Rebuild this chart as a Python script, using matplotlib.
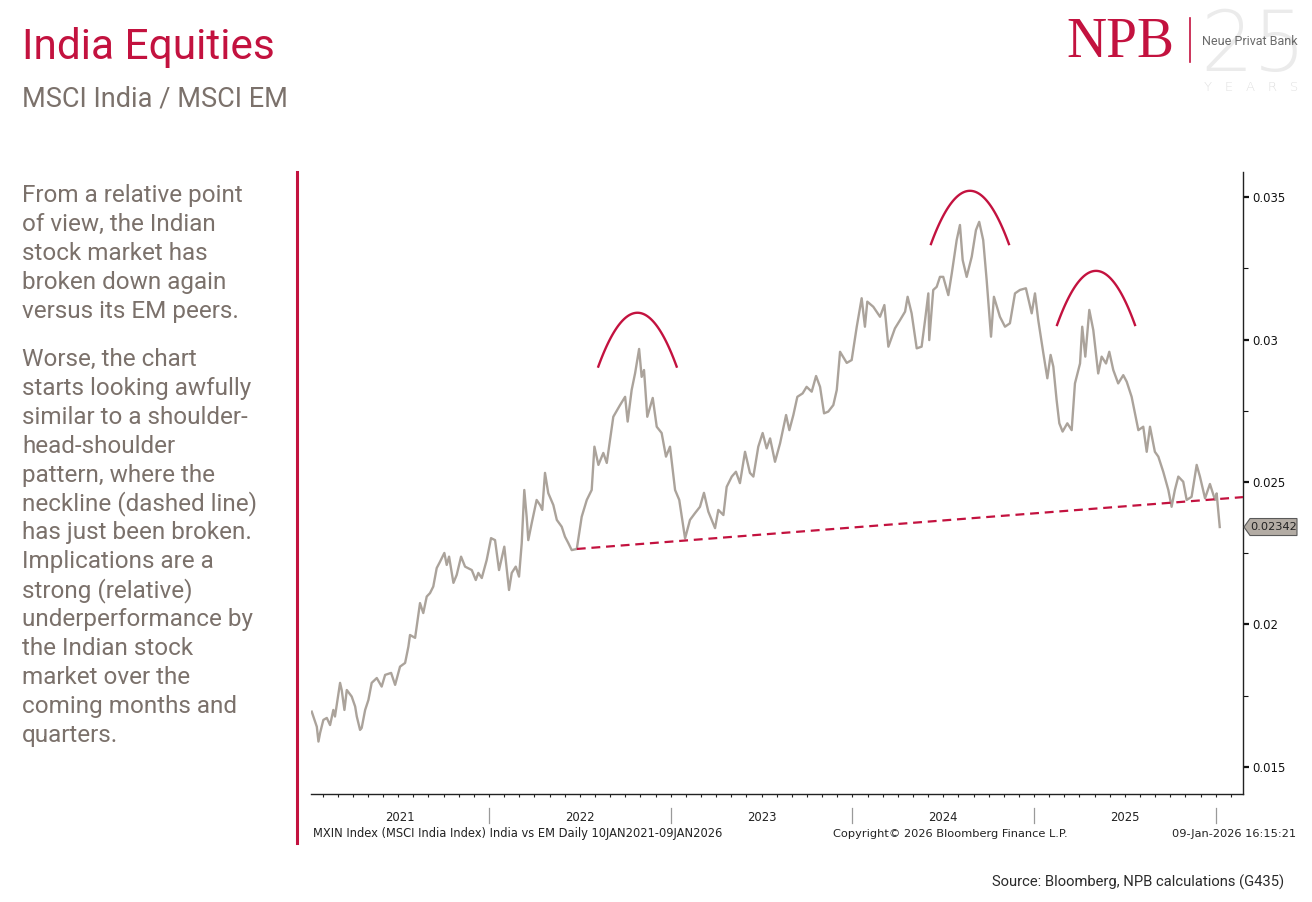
import matplotlib
matplotlib.use('Agg')
import matplotlib.pyplot as plt
import numpy as np
from matplotlib import font_manager
from matplotlib.lines import Line2D
from matplotlib.patches import Polygon
import matplotlib.transforms as mtrans

# ---------------- data ----------------
years = [2021.024, 2021.052, 2021.061, 2021.070, 2021.088, 2021.107, 2021.125, 2021.143, 2021.152, 2021.180,
         2021.189, 2021.204, 2021.217, 2021.244, 2021.263, 2021.272, 2021.290, 2021.299, 2021.318, 2021.336,
         2021.354, 2021.382, 2021.409, 2021.428, 2021.461, 2021.483, 2021.510, 2021.538, 2021.556, 2021.565,
         2021.593, 2021.620, 2021.638, 2021.657, 2021.675, 2021.693, 2021.712, 2021.730, 2021.754, 2021.767,
         2021.780, 2021.804, 2021.822, 2021.846, 2021.868, 2021.905, 2021.927, 2021.941, 2021.960, 2021.987,
         2022.011, 2022.033, 2022.055, 2022.084, 2022.110, 2022.125, 2022.147, 2022.165, 2022.180, 2022.194,
         2022.207, 2022.216, 2022.235, 2022.262, 2022.281, 2022.293, 2022.308, 2022.326, 2022.354, 2022.373,
         2022.400, 2022.418, 2022.436, 2022.455, 2022.483, 2022.510, 2022.538, 2022.565, 2022.580, 2022.602,
         2022.629, 2022.648, 2022.666, 2022.684, 2022.721, 2022.749, 2022.763, 2022.785, 2022.804, 2022.826,
         2022.840, 2022.853, 2022.871, 2022.901, 2022.923, 2022.950, 2022.974, 2022.996, 2023.024, 2023.047,
         2023.061, 2023.079, 2023.106, 2023.134, 2023.161, 2023.183, 2023.207, 2023.244, 2023.262, 2023.290,
         2023.308, 2023.336, 2023.359, 2023.381, 2023.409, 2023.436, 2023.455, 2023.482, 2023.506, 2023.528,
         2023.547, 2023.574, 2023.602, 2023.635, 2023.653, 2023.675, 2023.697, 2023.726, 2023.748, 2023.776,
         2023.800, 2023.822, 2023.844, 2023.867, 2023.895, 2023.914, 2023.932, 2023.969, 2023.996, 2024.024,
         2024.051, 2024.069, 2024.082, 2024.115, 2024.152, 2024.176, 2024.198, 2024.234, 2024.262, 2024.290,
         2024.304, 2024.326, 2024.354, 2024.381, 2024.400, 2024.418, 2024.423, 2024.445, 2024.464, 2024.482,
         2024.500, 2024.528, 2024.547, 2024.574, 2024.592, 2024.607, 2024.629, 2024.657, 2024.680, 2024.698,
         2024.720, 2024.739, 2024.763, 2024.779, 2024.812, 2024.840, 2024.867, 2024.895, 2024.922, 2024.955,
         2024.987, 2025.005, 2025.023, 2025.051, 2025.073, 2025.091, 2025.106, 2025.124, 2025.139, 2025.157,
         2025.183, 2025.207, 2025.225, 2025.253, 2025.265, 2025.282, 2025.304, 2025.326, 2025.353, 2025.372,
         2025.396, 2025.414, 2025.436, 2025.463, 2025.491, 2025.510, 2025.537, 2025.574, 2025.601, 2025.620,
         2025.638, 2025.665, 2025.684, 2025.711, 2025.739, 2025.757, 2025.775, 2025.794, 2025.821, 2025.840,
         2025.867, 2025.895, 2025.913, 2025.941, 2025.968, 2025.996, 2026.005, 2026.022]
ratio = [0.01694, 0.01641, 0.01589, 0.01619, 0.01665, 0.01672, 0.01647, 0.01700, 0.01677, 0.01795,
         0.01770, 0.01700, 0.01770, 0.01747, 0.01712, 0.01677, 0.01630, 0.01637, 0.01700, 0.01735,
         0.01795, 0.01812, 0.01782, 0.01823, 0.01830, 0.01788, 0.01852, 0.01865, 0.01922, 0.01963,
         0.01953, 0.02075, 0.02040, 0.02098, 0.02110, 0.02133, 0.02198, 0.02220, 0.02251, 0.02209,
         0.02238, 0.02146, 0.02174, 0.02238, 0.02203, 0.02191, 0.02156, 0.02181, 0.02163, 0.02226,
         0.02303, 0.02296, 0.02191, 0.02273, 0.02121, 0.02181, 0.02203, 0.02168, 0.02286, 0.02472,
         0.02378, 0.02296, 0.02356, 0.02437, 0.02419, 0.02402, 0.02532, 0.02461, 0.02419, 0.02367,
         0.02343, 0.02308, 0.02286, 0.02261, 0.02265, 0.02378, 0.02437, 0.02472, 0.02624, 0.02560,
         0.02602, 0.02567, 0.02647, 0.02729, 0.02770, 0.02799, 0.02712, 0.02823, 0.02882, 0.02967,
         0.02869, 0.02893, 0.02729, 0.02795, 0.02694, 0.02672, 0.02589, 0.02624, 0.02472, 0.02437,
         0.02378, 0.02302, 0.02367, 0.02391, 0.02413, 0.02462, 0.02396, 0.02338, 0.02402, 0.02384,
         0.02483, 0.02519, 0.02536, 0.02496, 0.02606, 0.02532, 0.02519, 0.02624, 0.02672, 0.02618,
         0.02653, 0.02571, 0.02636, 0.02735, 0.02682, 0.02735, 0.02799, 0.02811, 0.02834, 0.02817,
         0.02872, 0.02834, 0.02741, 0.02747, 0.02770, 0.02823, 0.02957, 0.02918, 0.02928, 0.03045,
         0.03145, 0.03045, 0.03133, 0.03115, 0.03080, 0.03121, 0.02975, 0.03039, 0.03068, 0.03098,
         0.03150, 0.03092, 0.02969, 0.02975, 0.03068, 0.03162, 0.02998, 0.03174, 0.03185, 0.03220,
         0.03220, 0.03156, 0.03232, 0.03349, 0.03402, 0.03279, 0.03220, 0.03291, 0.03384, 0.03413,
         0.03349, 0.03209, 0.03010, 0.03150, 0.03080, 0.03045, 0.03057, 0.03162, 0.03174, 0.03180,
         0.03092, 0.03162, 0.03068, 0.02952, 0.02864, 0.02946, 0.02905, 0.02788, 0.02706, 0.02677,
         0.02706, 0.02682, 0.02846, 0.02916, 0.03045, 0.02940, 0.03104, 0.03033, 0.02881, 0.02940,
         0.02916, 0.02957, 0.02893, 0.02846, 0.02875, 0.02852, 0.02799, 0.02682, 0.02694, 0.02606,
         0.02694, 0.02606, 0.02589, 0.02536, 0.02472, 0.02413, 0.02472, 0.02519, 0.02501, 0.02437,
         0.02448, 0.02560, 0.02519, 0.02443, 0.02493, 0.02437, 0.02460, 0.02342]
last_value = 0.02342

# neckline (dashed) endpoints: year, value
neck_years = [2022.483, 2026.150]
neck_values = [0.02265, 0.02447]

# shoulder / head arcs: centre year, half width (years), top value, end value
arc_centres = [2022.817, 2024.647, 2025.341]
arc_halfwidths = [0.2157, 0.2146, 0.2146]
arc_tops = [0.03094, 0.03522, 0.03241]
arc_ends = [0.02905, 0.03335, 0.03051]

year_labels = [2021, 2022, 2023, 2024, 2025]
y_major = [0.015, 0.02, 0.025, 0.03, 0.035]
y_major_labels = ['0.015', '0.02', '0.025', '0.03', '0.035']
x_range = (2021.020, 2026.150)
y_range = (0.01405, 0.03588)

para1 = ["From a relative point", "of view, the Indian", "stock market has",
         "broken down again", "versus its EM peers."]
para2 = ["Worse, the chart", "starts looking awfully", "similar to a shoulder-",
         "head-shoulder", "pattern, where the", "neckline (dashed line)",
         "has just been broken.", "Implications are a", "strong (relative)",
         "underperformance by", "the Indian stock", "market over the",
         "coming months and", "quarters."]

# ---------------- style ----------------
names = {f.name for f in font_manager.fontManager.ttflist}
COND = 'Liberation Sans Narrow' if 'Liberation Sans Narrow' in names else 'Roboto'
SERIF = 'Liberation Serif' if 'Liberation Serif' in names else 'DejaVu Serif'
RED = '#c3123f'
GREY_TXT = '#7b716b'
LINE = '#aba39b'

W, H = 1312, 902
fig = plt.figure(figsize=(W / 100, H / 100), dpi=100)
fig.patch.set_facecolor('white')

def fx(px):
    return px / W

def fy(py):
    return 1 - py / H

ax = fig.add_axes([fx(311), fy(794), fx(1243) - fx(311), fy(172) - fy(794)])
ax.set_facecolor('white')

ax.plot(years, ratio, color=LINE, lw=1.7, solid_joinstyle='round', zorder=3)
ax.plot(neck_years, neck_values, color=RED, lw=1.6, dashes=(4, 2.6), zorder=4)

for xc, hw, top, end in zip(arc_centres, arc_halfwidths, arc_tops, arc_ends):
    xs = np.linspace(xc - hw, xc + hw, 120)
    ys = top - (top - end) * ((xs - xc) / hw) ** 2
    ax.plot(xs, ys, color=RED, lw=1.7, zorder=4)

ax.set_xlim(*x_range)
ax.set_ylim(*y_range)
for s in ['left', 'top']:
    ax.spines[s].set_visible(False)
for s in ['right', 'bottom']:
    ax.spines[s].set_color('#222222')
    ax.spines[s].set_linewidth(1.0)

ax.yaxis.tick_right()
ax.set_yticks(y_major)
ax.set_yticklabels(y_major_labels)
ax.set_yticks([v + 0.0025 for v in y_major[:-1]], minor=True)
ax.tick_params(axis='y', which='major', direction='out', length=4, width=1.6,
               labelsize=8.4, pad=3, colors='#111111')
ax.tick_params(axis='y', which='minor', direction='out', length=3.5, width=0.8, colors='#111111')

months = [y + m / 12 for y in range(2021, 2027) for m in range(12)]
months = [m for m in months if x_range[0] <= m <= x_range[1]]
ax.set_xticks([])
ax.set_xticks(months, minor=True)
ax.tick_params(axis='x', which='minor', direction='out', length=2, width=0.8, colors='#222222')

blend = mtrans.blended_transform_factory(ax.transData, ax.transAxes)
for yb in range(2022, 2027):
    ax.plot([yb, yb], [-0.0225, -0.046], transform=blend, color='#9a9a9a', lw=0.9, clip_on=False)
for yl in year_labels:
    lo = max(yl, x_range[0])
    hi = min(yl + 1, x_range[1])
    ax.text((lo + hi) / 2, -0.038, str(yl), transform=blend, ha='center', va='center',
            fontsize=8.4, color='#222222', family='DejaVu Sans')

# last value tag
fig.canvas.draw()
xr = ax.transAxes.transform((1, 0))[0]
yv = ax.transData.transform((x_range[0], last_value))[1]
poly = Polygon([(xr + 1, yv), (xr + 7, yv + 8.5), (xr + 54, yv + 8.5), (xr + 54, yv - 8.5),
                (xr + 7, yv - 8.5)], closed=True, facecolor='#b3aca4', edgecolor='#5a5a5a',
               lw=0.8, transform=mtrans.IdentityTransform())
fig.add_artist(poly)
fig.text(xr + 31, yv, f'{last_value:.5f}', transform=mtrans.IdentityTransform(),
         ha='center', va='center', fontsize=8.2, color='#222222', family='DejaVu Sans')

# footer texts of the chart
fig.text(fx(313), fy(834), 'MXIN Index (MSCI India Index) India vs EM Daily 10JAN2021-09JAN2026',
         ha='left', va='center', fontsize=8.3, color='#222222', family='DejaVu Sans')
fig.text(fx(833), fy(834), 'Copyright\u00a9 2026 Bloomberg Finance L.P.',
         ha='left', va='center', fontsize=8.2, color='#222222', family='DejaVu Sans')
fig.text(fx(1296), fy(834), '09-Jan-2026 16:15:21',
         ha='right', va='center', fontsize=8.2, color='#222222', family='DejaVu Sans')

# red separator line
fig.add_artist(Line2D([fx(297), fx(297)], [fy(843), fy(172)], color=RED, lw=2.2,
                      transform=fig.transFigure))

# titles
fig.text(fx(22), fy(59), 'India Equities', ha='left', va='baseline', fontsize=30.5,
         color=RED, family=COND)
fig.text(fx(22), fy(107), 'MSCI India / MSCI EM', ha='left', va='baseline', fontsize=19.5,
         color=GREY_TXT, family=COND)

# paragraph text
lh = 28.9
for i, line in enumerate(para1):
    fig.text(fx(22), fy(202 + i * lh), line, ha='left', va='baseline', fontsize=17.5,
             color=GREY_TXT, family=COND)
for i, line in enumerate(para2):
    fig.text(fx(22), fy(366 + i * lh), line, ha='left', va='baseline', fontsize=17.5,
             color=GREY_TXT, family=COND)

# source
fig.text(fx(1284), fy(887), 'Source: Bloomberg, NPB calculations (G435)', ha='right',
         va='baseline', fontsize=10.6, color='#2a2a2a', family=COND)

# logo
fig.text(fx(1200), fy(71), '25', ha='left', va='baseline', fontsize=60, color='#ebebeb',
         family='DejaVu Sans', fontweight='light', fontstyle='normal', zorder=0)
fig.text(fx(1251), fy(91), 'Y   E   A   R   S', ha='center', va='baseline', fontsize=9.5,
         color='#e0e0e0', family='DejaVu Sans', fontweight='light', zorder=0)
fig.text(fx(1066), fy(57), 'NPB', ha='left', va='baseline', fontsize=40, color=RED,
         family=SERIF)
fig.add_artist(Line2D([fx(1190), fx(1190)], [fy(62), fy(18)], color=RED, lw=1.2,
                      transform=fig.transFigure))
fig.text(fx(1202), fy(45), 'Neue Privat Bank', ha='left', va='baseline', fontsize=9,
         color='#6a6a6a', family='Roboto', zorder=2)

fig.savefig('out.png', dpi=100, facecolor='white')
